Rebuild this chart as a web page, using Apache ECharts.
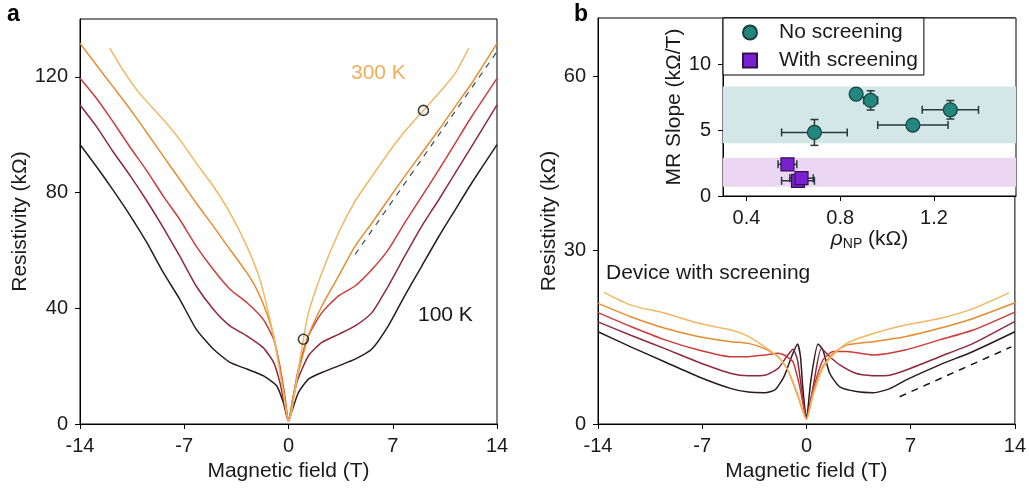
<!DOCTYPE html>
<html><head><meta charset="utf-8">
<script src="https://cdn.jsdelivr.net/npm/echarts@6/dist/echarts.min.js"></script>
<style>html,body{margin:0;padding:0;background:#fff}#c{width:1029px;height:488px}</style>
</head><body><div id="c"></div>
<script>
// ---------- tick labels ----------
const fieldTicks = [-14, -7, 0, 7, 14];
const rhoTicksA = [0, 40, 80, 120];
const rhoTicksB = [0, 30, 60];
const insetRhoTicks = [0.4, 0.8, 1.2];
const insetSlopeTicks = [0, 5, 10];

// ---------- panel a (no screening) ----------
const aField1 = [-14,-12.9,-11.8,-10.6,-9.5,-8.4,-7.3,-6.2,-5.05,-3.93,-2.8,-1.7,-0.8,-0.35,0,0.2,0.67,1.34,2.24,3.36,4.47,5.6,6.7,7.8,8.95,10.1,11.2,12.3,14];
const aRho1   = [96.6,89,81,71.8,62.6,52.3,43.1,32.8,25.9,21.3,19.0,16.7,13.2,7.5,1.0,4,10.9,15.5,17.8,20.1,22.4,25.9,33.9,44.3,54.6,64.9,74.1,83.3,96.6];
const aField2 = [-14,-12.9,-11.8,-10.6,-9.5,-8.4,-7.3,-6.2,-5.05,-3.93,-2.8,-1.7,-1.0,-0.58,-0.25,0,0.25,0.56,1.34,2.24,3.36,4.47,5.6,6.7,7.8,8.95,10.1,11.2,12.3,14];
const aRho2   = [110.3,102.9,94.3,85.6,77,67.8,58,47.7,39.7,33.9,30.5,26.4,21.3,14.4,6.3,1,6.5,14.4,23.6,28.2,31,33.9,38.5,47.7,58,68.4,77.6,86.8,96,110.3];
const aField3 = [-14,-12.9,-11.8,-10.6,-9.5,-8.4,-7.3,-6.2,-5.05,-3.93,-2.8,-1.7,-1.0,-0.58,-0.25,0,0.3,0.67,1.34,2.24,3.36,4.47,5.6,6.7,7.8,8.95,10.1,11.2,12.3,14];
const aRho3   = [119.5,112.6,104.6,95.4,87.4,78.7,70.7,61.5,53.4,46.6,42,36.2,29.3,20.1,9.8,1,9,19,30.5,38.5,44.3,47.7,53.4,60.3,69.5,78.7,87.9,97.1,106.3,119.5];
const aField4 = [-14,-12.9,-11.8,-10.6,-9.5,-8.4,-7.3,-6.2,-5.05,-3.93,-2.8,-2.14,-1.47,-1.0,-0.58,-0.25,0,0.3,0.67,1.34,2.24,3.36,4.47,5.6,6.7,7.8,8.95,10.1,11.2,12.3,14];
const aRho4   = [131.6,124.1,116.7,108.6,100.6,92.5,84.5,76.4,68.4,60.3,52.3,46.6,38.5,30.5,19,8.6,1,9,17.8,30.5,40.8,51.1,61.5,69.5,77.6,85.6,93.7,101.7,109.8,117.8,131.6];
const aField5 = [-12,-11.2,-10.1,-8.4,-7.3,-6.2,-5.05,-3.93,-2.8,-1.92,-1.25,-0.8,-0.35,0,0.2,0.56,1.0,1.34,2.24,3.36,4.47,5.6,6.7,7.8,9.06,10.1,11.2,12.1];
const aRho5   = [129.9,123,114.9,105.2,98.3,90.2,82.2,73,61.5,50,36.2,24.7,10.9,1,4,15.5,29.3,38.5,52.3,66.1,77,85.6,93.7,101.1,108.4,114.4,121.3,129.9];
const aMarkField = [1.0, 9.06];
const aMarkRho   = [29.3, 108.4];
const aGuideField = [4.47, 14];
const aGuideRho   = [58.6, 128.7];

// ---------- panel b (device with screening) ----------
const bField1 = [-14,-11.8,-9.5,-7.3,-5.05,-3.9,-2.8,-2.1,-1.5,-1.0,-0.6,-0.4,-0.25,0,0.3,0.78,1.1,1.57,2.24,3.36,4.5,5.6,6.7,8.95,11.2,14];
const bRho1   = [15.9,13.3,10.7,8.2,6.1,5.5,5.4,5.9,8.2,11.6,13.8,11.6,6.4,0.8,7.6,13.8,12.8,8.7,6.4,5.6,5.4,6.1,7.6,10.2,12.5,15.9];
const bField2 = [-14,-11.8,-9.5,-7.3,-5.05,-3.9,-2.8,-1.9,-1.25,-0.9,-0.6,-0.35,0,0.45,1.0,1.57,2.24,3.36,4.5,5.6,6.7,8.95,11.2,14];
const bRho2   = [17.6,15.3,13.0,10.7,8.7,8.3,8.4,9.6,11.9,12.9,11.0,6.4,0.9,6.4,13.0,11.6,10.2,8.7,8.3,8.4,9.3,11.6,13.9,17.7];
const bField3 = [-14,-11.8,-9.5,-7.3,-5.05,-3.9,-2.8,-1.9,-1.5,-0.9,-0.45,0,0.45,1.1,1.8,2.7,4.5,6.7,8.95,11.2,14];
const bRho3   = [19.2,16.8,14.5,12.8,11.6,11.6,11.9,12.2,11.9,10.7,6.4,1,5.9,11.0,12.5,12.5,11.9,12.8,14.5,16.2,19.3];
const bField4 = [-14,-11.8,-9.5,-7.3,-5.05,-3.9,-2.8,-1.9,-1.25,-0.6,0,0.45,1.1,1.8,2.7,4.5,6.7,8.95,11.2,14];
const bRho4   = [20.8,18.5,16.5,15.1,14.2,13.9,13.0,11.6,9.3,5.0,0.8,5.3,9.9,12.2,13.6,14.2,15.1,16.5,18.2,20.9];
const bField5 = [-13.6,-11.8,-9.5,-7.3,-5.05,-3.9,-2.8,-1.9,-1.25,-0.6,0,0.45,1.1,1.8,2.7,4.5,6.7,8.95,11.2,13.6];
const bRho5   = [22.7,20.5,19.1,17.4,16.2,15.1,13.3,11.6,9.3,5.3,0.8,5.0,9.6,11.9,13.9,15.6,17.1,18.2,19.9,22.6];
const bGuideField = [6.26, 13.76];
const bGuideRho   = [4.7, 13.3];

// ---------- inset ----------
const noScrRho      = [0.868, 0.93, 1.27, 1.11, 0.69];
const noScrSlope    = [7.73, 7.25, 6.54, 5.38, 4.82];
const noScrRhoErr   = [0.02, 0.03, 0.12, 0.15, 0.14];
const noScrSlopeErr = [0.15, 0.73, 0.7, 0.15, 0.98];
const withScrRho      = [0.575, 0.62, 0.635];
const withScrSlope    = [2.4, 1.15, 1.35];
const withScrRhoErr   = [0.04, 0.07, 0.05];
const withScrSlopeErr = [0.4, 0.3, 0.35];
const noScrBand   = [4.0, 8.3];
const withScrBand = [0.7, 2.9];

const curveColors = ['#2b1a20', '#8e2a3b', '#cc3d3a', '#e58d30', '#f0b862'];
const FONT = '"Liberation Sans", Arial, sans-serif';

const zip = (a, b) => a.map((v, i) => [v, b[i]]);
const zip4 = (a, b, c, d) => a.map((v, i) => [v, b[i], c[i], d[i]]);

function curve(name, fx, ry, color, gi) {
  return { name, type: 'line', xAxisIndex: gi, yAxisIndex: gi, data: zip(fx, ry),
    showSymbol: false, smooth: 0.2,
    lineStyle: { color, width: 1.5 }, z: 2 };
}

function errRender(params, api) {
  const x = api.value(0), y = api.value(1), ex = api.value(2), ey = api.value(3);
  const l = api.coord([x - ex, y]), r = api.coord([x + ex, y]);
  const t = api.coord([x, y + ey]), b = api.coord([x, y - ey]);
  const cap = 4;
  const st = { stroke: '#233b39', lineWidth: 1.5, fill: null };
  const ln = (x1, y1, x2, y2) => ({ type: 'line', shape: { x1, y1, x2, y2 }, style: st });
  return { type: 'group', children: [
    ln(l[0], l[1], r[0], r[1]),
    ln(l[0], l[1] - cap, l[0], l[1] + cap),
    ln(r[0], r[1] - cap, r[0], r[1] + cap),
    ln(t[0], t[1], b[0], b[1]),
    ln(t[0] - cap, t[1], t[0] + cap, t[1]),
    ln(b[0] - cap, b[1], b[0] + cap, b[1])
  ]};
}

function xAx(gi, min, max, custom, extra) {
  return Object.assign({
    gridIndex: gi, type: 'value', min, max,
    axisLine: { show: true, onZero: false, lineStyle: { color: '#000', width: 1 } },
    axisTick: { show: true, inside: false, length: 5, lineStyle: { color: '#000' }, customValues: custom },
    axisLabel: { fontSize: 20, color: '#1a1a1a', fontFamily: FONT, margin: 12, customValues: custom },
    splitLine: { show: false },
    nameLocation: 'middle', nameTextStyle: { fontSize: 21, color: '#1a1a1a', fontFamily: FONT }
  }, extra);
}

const option = {
  animation: false,
  backgroundColor: '#fff',
  textStyle: { fontFamily: FONT },
  grid: [
    { left: 80, top: 19, width: 417, height: 405, show: true, borderColor: '#000', borderWidth: 1, backgroundColor: 'transparent' },
    { left: 598, top: 18, width: 418, height: 406, show: true, borderColor: '#000', borderWidth: 1, backgroundColor: 'transparent' },
    { left: 723, top: 18, width: 293, height: 178, show: true, borderColor: '#000', borderWidth: 1, backgroundColor: '#fff' }
  ],
  xAxis: [
    xAx(0, -14, 14, fieldTicks, { name: 'Magnetic field (T)', nameGap: 36 }),
    xAx(1, -14, 14, fieldTicks, { name: 'Magnetic field (T)', nameGap: 36 }),
    xAx(2, 0.3, 1.55, insetRhoTicks, {
      name: '{i|ρ}{s|NP} (kΩ)', nameGap: 30,
      nameTextStyle: { fontSize: 21, color: '#1a1a1a', fontFamily: FONT,
        rich: { i: { fontStyle: 'italic', fontSize: 21, fontFamily: FONT, color: '#1a1a1a' },
                s: { fontSize: 14, fontFamily: FONT, color: '#1a1a1a', padding: [10, 0, 0, 0] } } }
    })
  ],
  yAxis: [
    xAx(0, 0, 140, rhoTicksA, { name: 'Resistivity (kΩ)', nameGap: 40 }),
    xAx(1, 0, 70, rhoTicksB, { name: 'Resistivity (kΩ)', nameGap: 38 }),
    xAx(2, 0, 13.5, insetSlopeTicks, { name: 'MR Slope (kΩ/T)', nameGap: 38 })
  ],
  legend: {
    data: [
      { name: 'No screening', icon: 'circle' },
      { name: 'With screening', icon: 'path://M0,0H10V10H0Z' }
    ],
    orient: 'vertical', left: 723, top: 18,
    backgroundColor: '#fff', borderColor: '#000', borderWidth: 1,
    padding: [4, 6, 4, 19], itemWidth: 48, itemHeight: 14, itemGap: 7,
    symbolKeepAspect: true,
    textStyle: { fontSize: 21, color: '#1a1a1a', fontFamily: FONT },
    z: 10
  },
  graphic: [
    { type: 'text', left: 7, top: 3, style: { text: 'a', font: 'bold 23px ' + FONT, fill: '#000' } },
    { type: 'text', left: 574, top: 3, style: { text: 'b', font: 'bold 23px ' + FONT, fill: '#000' } },
    { type: 'text', left: 351, top: 63, style: { text: '300 K', font: '21px ' + FONT, fill: '#f0ae5a' } },
    { type: 'text', left: 418, top: 305, style: { text: '100 K', font: '21px ' + FONT, fill: '#1a1a1a' } },
    { type: 'text', left: 606, top: 263, style: { text: 'Device with screening', font: '21px ' + FONT, fill: '#1a1a1a' } }
  ],
  series: [
    curve('100 K', aField1, aRho1, curveColors[0], 0),
    curve('a2', aField2, aRho2, curveColors[1], 0),
    curve('a3', aField3, aRho3, curveColors[2], 0),
    curve('a4', aField4, aRho4, curveColors[3], 0),
    curve('300 K', aField5, aRho5, curveColors[4], 0),
    { name: 'guide a', type: 'line', xAxisIndex: 0, yAxisIndex: 0, data: zip(aGuideField, aGuideRho),
      showSymbol: false, lineStyle: { color: '#3d4a58', width: 1.2, type: [6, 6] }, z: 3 },
    { name: 'marks a', type: 'scatter', xAxisIndex: 0, yAxisIndex: 0, data: zip(aMarkField, aMarkRho),
      symbol: 'circle', symbolSize: 10, itemStyle: { color: 'rgba(255,255,255,0)', borderColor: '#111', borderWidth: 1.6 }, z: 4 },
    curve('b1', bField1, bRho1, curveColors[0], 1),
    curve('b2', bField2, bRho2, curveColors[1], 1),
    curve('b3', bField3, bRho3, curveColors[2], 1),
    curve('b4', bField4, bRho4, curveColors[3], 1),
    curve('b5', bField5, bRho5, curveColors[4], 1),
    { name: 'guide b', type: 'line', xAxisIndex: 1, yAxisIndex: 1, data: zip(bGuideField, bGuideRho),
      showSymbol: false, lineStyle: { color: '#111', width: 1.5, type: [7, 6] }, z: 3 },
    { name: 'err no', type: 'custom', xAxisIndex: 2, yAxisIndex: 2, renderItem: errRender,
      data: zip4(noScrRho, noScrSlope, noScrRhoErr, noScrSlopeErr), encode: { x: 0, y: 1 }, z: 3,
      markArea: { silent: true, itemStyle: { color: '#d3e7e6' },
        data: [[{ yAxis: noScrBand[0] }, { yAxis: noScrBand[1] }]] } },
    { name: 'err with', type: 'custom', xAxisIndex: 2, yAxisIndex: 2, renderItem: errRender,
      data: zip4(withScrRho, withScrSlope, withScrRhoErr, withScrSlopeErr), encode: { x: 0, y: 1 }, z: 3,
      markArea: { silent: true, itemStyle: { color: '#ecd7f3' },
        data: [[{ yAxis: withScrBand[0] }, { yAxis: withScrBand[1] }]] } },
    { name: 'No screening', type: 'scatter', xAxisIndex: 2, yAxisIndex: 2, data: zip(noScrRho, noScrSlope),
      symbol: 'circle', symbolSize: 14, itemStyle: { color: '#22877e', borderColor: '#1b3f3c', borderWidth: 1.2, opacity: 1 }, z: 5 },
    { name: 'With screening', type: 'scatter', xAxisIndex: 2, yAxisIndex: 2, data: zip(withScrRho, withScrSlope),
      symbol: 'rect', symbolSize: 13, itemStyle: { color: '#7a22d2', borderColor: '#35124f', borderWidth: 1.2, opacity: 1 }, z: 5 }
  ]
};

const chart = echarts.init(document.getElementById('c'), null, { renderer: 'canvas' });
chart.setOption(option);
</script>
</body></html>
